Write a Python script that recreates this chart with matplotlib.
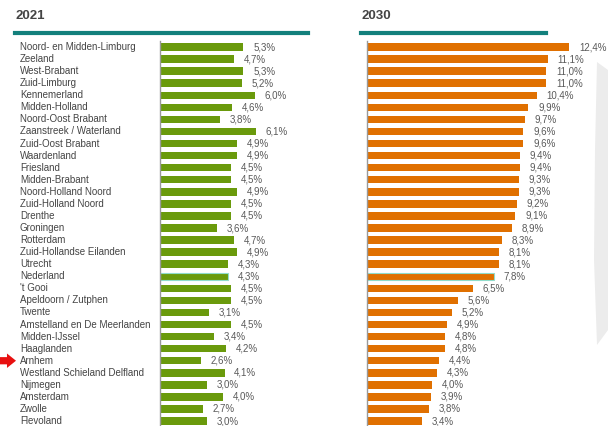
import matplotlib.pyplot as plt
import matplotlib.transforms as mtransforms
from matplotlib.patches import Polygon

plt.rcParams['font.family'] = ['Liberation Sans', 'DejaVu Sans']

regions = ['Noord- en Midden-Limburg', 'Zeeland', 'West-Brabant', 'Zuid-Limburg',
           'Kennemerland', 'Midden-Holland', 'Noord-Oost Brabant', 'Zaanstreek / Waterland',
           'Zuid-Oost Brabant', 'Waardenland', 'Friesland', 'Midden-Brabant',
           'Noord-Holland Noord', 'Zuid-Holland Noord', 'Drenthe', 'Groningen',
           'Rotterdam', 'Zuid-Hollandse Eilanden', 'Utrecht', 'Nederland',
           "'t Gooi", 'Apeldoorn / Zutphen', 'Twente', 'Amstelland en De Meerlanden',
           'Midden-IJssel', 'Haaglanden', 'Arnhem', 'Westland Schieland Delfland',
           'Nijmegen', 'Amsterdam', 'Zwolle', 'Flevoland']
vals_2021 = [5.3, 4.7, 5.3, 5.2, 6.0, 4.6, 3.8, 6.1, 4.9, 4.9, 4.5, 4.5, 4.9, 4.5, 4.5, 3.6,
             4.7, 4.9, 4.3, 4.3, 4.5, 4.5, 3.1, 4.5, 3.4, 4.2, 2.6, 4.1, 3.0, 4.0, 2.7, 3.0]
vals_2030 = [12.4, 11.1, 11.0, 11.0, 10.4, 9.9, 9.7, 9.6, 9.6, 9.4, 9.4, 9.3, 9.3, 9.2, 9.1, 8.9,
             8.3, 8.1, 8.1, 7.8, 6.5, 5.6, 5.2, 4.9, 4.8, 4.8, 4.4, 4.3, 4.0, 3.9, 3.8, 3.4]
highlight = 'Nederland'
marked = 'Arnhem'

W, H = 608, 426
fig = plt.figure(figsize=(W / 100, H / 100), dpi=100)
fig.patch.set_facecolor('white')

# decorative grey wedge at the right edge
wedge = Polygon([(597 / W, 1 - 62 / H), (595 / W, 1 - 150 / H), (594 / W, 1 - 260 / H),
                 (597 / W, 1 - 345 / H), (608 / W, 1 - 330 / H), (608 / W, 1 - 70 / H)],
                closed=True, transform=fig.transFigure, facecolor='#ececec', edgecolor='none')
fig.patches.append(wedge)


def px_axes(x0, y0, w, h):
    return fig.add_axes([x0 / W, 1 - (y0 + h) / H, w / W, h / H])


n = len(regions)
ytop, ybot = 41, 426
ylim = (n - 1 + 0.41, -0.5)

panels = [
    (vals_2021, '2021', 160, 15.75, '#6a9a0c', 15, 308),
    (vals_2030, '2030', 367, 16.3, '#e07000', 361, 546),
]

axes = []
for vals, title, x0, scale, color, lx0, lx1 in panels:
    width_px = 230
    ax = px_axes(x0, ytop, width_px, ybot - ytop)
    axes.append(ax)
    ax.set_xlim(0, width_px / scale)
    ax.set_ylim(*ylim)
    ax.set_facecolor('none')
    for s in ['top', 'right', 'bottom']:
        ax.spines[s].set_visible(False)
    ax.spines['left'].set_color('#999999')
    ax.spines['left'].set_linewidth(1)
    ax.set_xticks([])
    ax.set_yticks([])
    for i, (name, v) in enumerate(zip(regions, vals)):
        if name == highlight:
            ax.barh(i, v, height=0.62, color=color, edgecolor='#8fdccb', linewidth=0.8, zorder=2)
        else:
            ax.barh(i, v, height=0.62, color=color, zorder=2)
        ax.annotate(f'{v:.1f}%'.replace('.', ','), (v, i), xytext=(7, 0),
                    textcoords='offset points', va='center', ha='left',
                    fontsize=7, color='#5a5a5a')
    fig.text(lx0 / W, 1 - 16 / H, title, fontsize=9.5, fontweight='bold',
             color='#444444', ha='left', va='center')
    fig.add_artist(plt.Line2D([lx0 / W, lx1 / W], [1 - 33 / H, 1 - 33 / H],
                              color='#13807c', linewidth=3, transform=fig.transFigure))

# region labels on the left panel
ax_left = axes[0]
trans = mtransforms.blended_transform_factory(fig.transFigure, ax_left.transData)
for i, name in enumerate(regions):
    ax_left.text(20 / W, i, name, transform=trans, fontsize=7, color='#444444',
                 ha='left', va='center', clip_on=False)

# red arrow pointing at Arnhem
row = regions.index(marked)
ax_left.annotate('', xy=(16 / W, row), xytext=(0, row), xycoords=trans, textcoords=trans,
                 arrowprops=dict(arrowstyle='simple,head_length=0.5,head_width=0.8,tail_width=0.4',
                                 mutation_scale=13, color='#e81010', lw=0,
                                 shrinkA=0, shrinkB=0),
                 annotation_clip=False)

fig.savefig('out.png', dpi=100)
